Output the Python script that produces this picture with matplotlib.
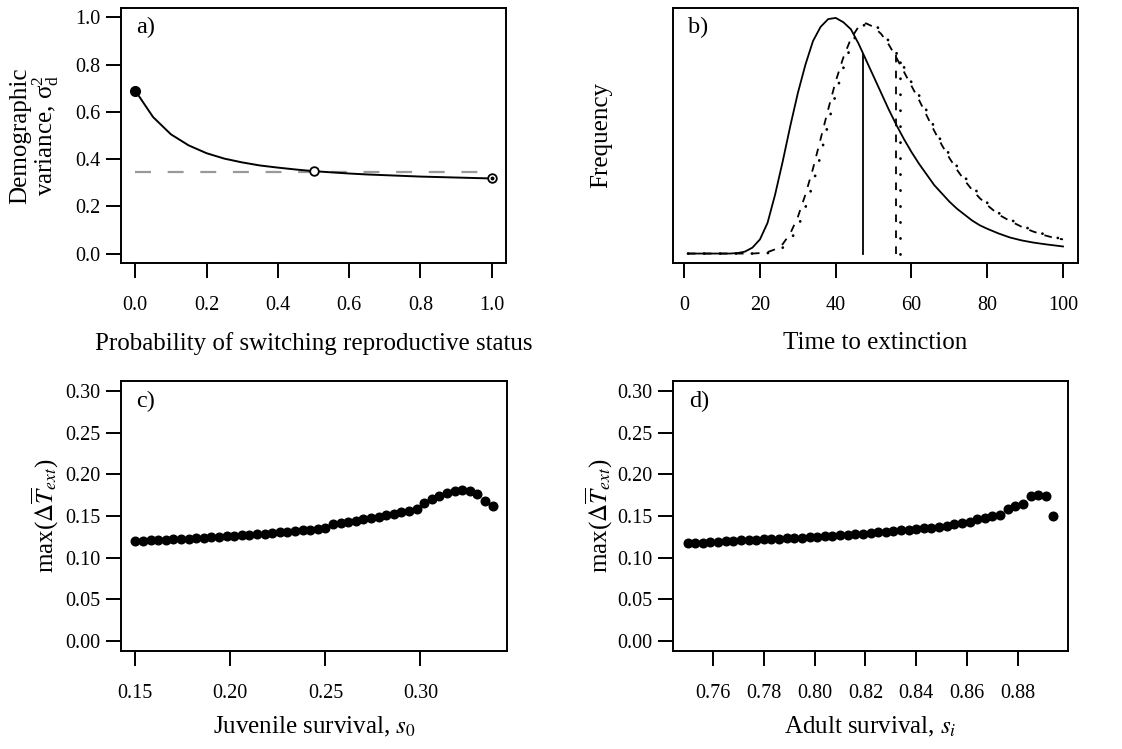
import matplotlib
matplotlib.use("Agg")
import matplotlib.pyplot as plt
import numpy as np

plt.rcParams['font.family'] = ['Liberation Serif', 'DejaVu Serif']
plt.rcParams['mathtext.fontset'] = 'stix'
plt.rcParams['lines.scale_dashes'] = False
plt.rcParams['axes.linewidth'] = 1.4

FS = 18      # axis labels
TFS = 14.5   # tick labels

# ---- panel a: demographic variance vs switching probability
switch_p = [0.00, 0.05, 0.10, 0.15, 0.20, 0.25, 0.30, 0.35, 0.40, 0.45, 0.50,
            0.55, 0.60, 0.65, 0.70, 0.75, 0.80, 0.85, 0.90, 0.95, 1.00]
dem_var = [0.690, 0.578, 0.505, 0.458, 0.425, 0.402, 0.386, 0.373, 0.364, 0.356, 0.349,
           0.344, 0.339, 0.335, 0.332, 0.329, 0.326, 0.324, 0.322, 0.320, 0.318]
mark_p = [0.0, 0.5, 1.0]
mark_var = [0.690, 0.349, 0.318]
ref_var = 0.347

# ---- panel b: time-to-extinction distributions
t_ext = [1, 4, 8, 12, 14, 16, 18, 20, 22, 24, 26, 28, 30, 32, 34, 36, 38, 40, 42, 44,
         46, 48, 50, 52, 54, 56, 58, 60, 62, 64, 66, 68, 70, 72, 74, 76, 78, 80,
         83, 86, 89, 92, 95, 98, 100]
freq_solid = [0, 0, 0, 0, 0.002, 0.008, 0.025, 0.06, 0.13, 0.25, 0.39, 0.54, 0.68,
              0.80, 0.90, 0.96, 0.993, 0.998, 0.98, 0.95, 0.89, 0.82, 0.75, 0.68, 0.61,
              0.545, 0.485, 0.43, 0.38, 0.335, 0.29, 0.255, 0.22, 0.19, 0.165, 0.14,
              0.12, 0.105, 0.085, 0.068, 0.056, 0.047, 0.04, 0.034, 0.03]
freq_dash = [0, 0, 0, 0, 0, 0, 0, 0.002, 0.006, 0.018, 0.04, 0.085, 0.155, 0.25, 0.36,
             0.485, 0.61, 0.73, 0.83, 0.91, 0.96, 0.975, 0.96, 0.93, 0.885, 0.83, 0.77,
             0.71, 0.65, 0.585, 0.52, 0.46, 0.405, 0.355, 0.31, 0.27, 0.235, 0.205,
             0.165, 0.138, 0.114, 0.094, 0.078, 0.065, 0.06]
freq_dot = [0, 0, 0, 0, 0, 0, 0, 0, 0.002, 0.008, 0.025, 0.055, 0.11, 0.195, 0.295,
            0.415, 0.55, 0.675, 0.785, 0.88, 0.945, 0.975, 0.972, 0.945, 0.90, 0.85,
            0.79, 0.725, 0.67, 0.605, 0.535, 0.47, 0.42, 0.37, 0.325, 0.285, 0.25,
            0.215, 0.172, 0.145, 0.12, 0.098, 0.082, 0.068, 0.062]
mean_t = [47.3, 55.8, 56.9]
mean_h = [0.84, 0.85, 0.85]

# ---- panel c: juvenile survival
s0 = [round(0.150 + 0.004 * k, 3) for k in range(48)]
dT_s0 = [0.1200, 0.1200, 0.1210, 0.1215, 0.1218, 0.1222, 0.1226, 0.1230, 0.1236, 0.1242,
         0.1248, 0.1252, 0.1258, 0.1264, 0.1270, 0.1276, 0.1282, 0.1290, 0.1298, 0.1305,
         0.1312, 0.1320, 0.1328, 0.1336, 0.1350, 0.1362, 0.1400, 0.1415, 0.1430, 0.1445,
         0.1460, 0.1476, 0.1492, 0.1510, 0.1528, 0.1546, 0.1560, 0.1580, 0.1660, 0.1700,
         0.1735, 0.1775, 0.1800, 0.1815, 0.1805, 0.1765, 0.1680, 0.1620]

# ---- panel d: adult survival
si = [round(0.750 + 0.003 * k, 3) for k in range(49)]
dT_si = [0.1178, 0.1180, 0.1182, 0.1185, 0.1190, 0.1196, 0.1202, 0.1207, 0.1213, 0.1218,
         0.1222, 0.1225, 0.1228, 0.1232, 0.1236, 0.1240, 0.1246, 0.1252, 0.1258, 0.1262,
         0.1268, 0.1274, 0.1282, 0.1290, 0.1298, 0.1305, 0.1312, 0.1320, 0.1328, 0.1336,
         0.1344, 0.1352, 0.1360, 0.1372, 0.1385, 0.1400, 0.1415, 0.1430, 0.1465, 0.1480,
         0.1495, 0.1515, 0.1585, 0.1615, 0.1650, 0.1735, 0.1750, 0.1735, 0.1500]

W, H = 1122, 749
fig = plt.figure(figsize=(W / 100, H / 100), dpi=100)


def box(left, right, top, bottom):
    return fig.add_axes([left / W, 1 - bottom / H, (right - left) / W, (bottom - top) / H])


def rpad(lo, hi):
    d = (hi - lo) * 0.04
    return lo - d, hi + d


def style(ax):
    ax.tick_params(direction='out', length=10.5, width=1.4, labelsize=TFS)
    ax.tick_params(axis='x', pad=13)
    ax.tick_params(axis='y', pad=4)


ax_a = box(121, 506, 8, 263)
ax_b = box(673, 1078, 8, 263)
ax_c = box(121, 507, 381, 651)
ax_d = box(673, 1068, 381, 651)

# a)
ax_a.plot(switch_p, [ref_var] * len(switch_p), color='#999999', lw=1.6, dashes=(11.5, 12))
ax_a.plot(switch_p, dem_var, color='black', lw=1.4)
ax_a.plot(mark_p[0], mark_var[0], 'o', color='black', ms=7)
ax_a.plot(mark_p[1:], mark_var[1:], 'o', mfc='white', mec='black', ms=6.2, mew=1.3)
ax_a.plot(mark_p[2], mark_var[2], 'o', color='black', ms=1.8)
ax_a.set_xlim(*rpad(0, 1))
ax_a.set_ylim(*rpad(0, 1))
ax_a.set_xticks(np.arange(0, 1.01, 0.2))
ax_a.set_yticks(np.arange(0, 1.01, 0.2))
ax_a.set_xticklabels(['%.1f' % v for v in np.arange(0, 1.01, 0.2)])
ax_a.set_yticklabels(['%.1f' % v for v in np.arange(0, 1.01, 0.2)])
ax_a.set_xlabel('Probability of switching reproductive status', fontsize=FS)
ax_a.xaxis.set_label_coords(0.5, -0.27)
ax_a.set_ylabel('Demographic\nvariance, $\\mathregular{\\sigma^2_d}$', fontsize=FS,
                linespacing=0.95)
ax_a.yaxis.set_label_coords(-0.155, 0.5)
ax_a.text(0.04, 0.965, 'a)', transform=ax_a.transAxes, fontsize=17.5, va='top')

# b)
ax_b.plot(t_ext, freq_solid, color='black', lw=1.3)
ax_b.plot(t_ext, freq_dash, color='black', lw=1.3, dashes=(5.5, 6))
ax_b.plot(t_ext, freq_dot, color='black', lw=2.0, dashes=(0.1, 11.4),
          dash_capstyle='round')
ax_b.plot([mean_t[0]] * 2, [0, mean_h[0]], color='black', lw=1.3)
ax_b.plot([mean_t[1]] * 2, [0, mean_h[1]], color='black', lw=1.3, dashes=(5.5, 6))
ax_b.plot([mean_t[2]] * 2, [0, mean_h[2]], color='black', lw=2.0, dashes=(0.1, 11.4),
          dash_capstyle='round')
ax_b.set_xlim(*rpad(1, 100))
ax_b.set_ylim(*rpad(0, 1))
ax_b.set_xticks([0, 20, 40, 60, 80, 100])
ax_b.set_yticks([])
ax_b.set_xlabel('Time to extinction', fontsize=FS)
ax_b.xaxis.set_label_coords(0.5, -0.27)
ax_b.set_ylabel('Frequency', fontsize=FS)
ax_b.yaxis.set_label_coords(-0.15, 0.5)
ax_b.text(0.037, 0.965, 'b)', transform=ax_b.transAxes, fontsize=17.5, va='top')

# c) and d)
for ax, xs, ys, lab, letter in [(ax_c, s0, dT_s0, 'Juvenile survival, $s_0$', 'c)'),
                                (ax_d, si, dT_si, 'Adult survival, $s_i$', 'd)')]:
    ax.plot(xs, ys, 'o', color='black', ms=6.2)
    ax.set_xlim(*rpad(min(xs), max(xs)))
    ax.set_ylim(*rpad(0, 0.30))
    ax.set_yticks(np.arange(0, 0.301, 0.05))
    ax.set_yticklabels(['%.2f' % v for v in np.arange(0, 0.301, 0.05)])
    ax.set_xlabel(lab, fontsize=FS)
    ax.xaxis.set_label_coords(0.5, -0.235)
    ax.set_ylabel('max($\\Delta\\overline{T}_{ext}$)', fontsize=FS)
    ax.text(0.04, 0.965, letter, transform=ax.transAxes, fontsize=17.5, va='top')

ax_c.set_xticks([0.15, 0.20, 0.25, 0.30])
ax_c.set_xticklabels(['0.15', '0.20', '0.25', '0.30'])
ax_c.yaxis.set_label_coords(-0.155, 0.5)
dt = [0.76, 0.78, 0.80, 0.82, 0.84, 0.86, 0.88]
ax_d.set_xticks(dt)
ax_d.set_xticklabels(['%.2f' % v for v in dt])
ax_d.yaxis.set_label_coords(-0.147, 0.5)

for ax in (ax_a, ax_b, ax_c, ax_d):
    style(ax)

fig.savefig('out.png', dpi=100)
